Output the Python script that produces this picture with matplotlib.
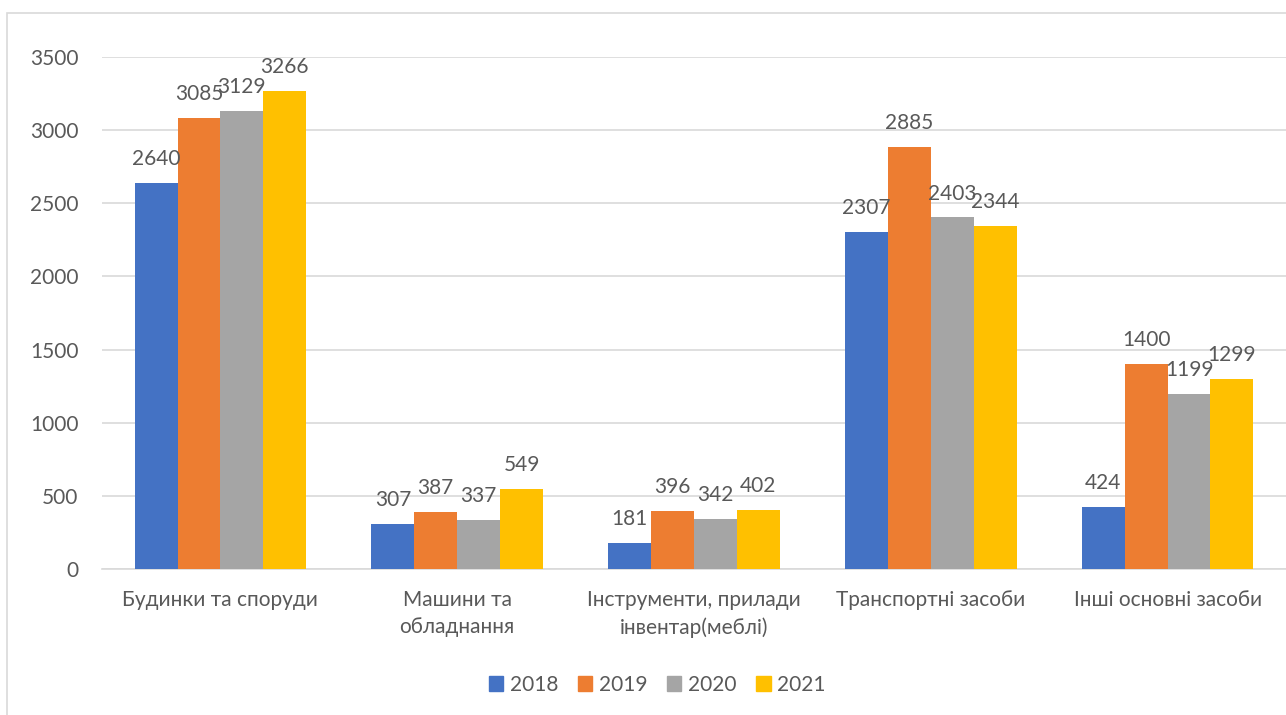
import matplotlib.pyplot as plt
import matplotlib.patches as mpatches
import numpy as np

# дані
categories = ['Будинки та споруди', 'Машини та\nобладнання',
              'Інструменти, прилади\nінвентар(меблі)', 'Транспортні засоби',
              'Інші основні засоби']
years = ['2018', '2019', '2020', '2021']
v2018 = [2640, 307, 181, 2307, 424]
v2019 = [3085, 387, 396, 2885, 1400]
v2020 = [3129, 337, 342, 2403, 1199]
v2021 = [3266, 549, 402, 2344, 1299]
series = [v2018, v2019, v2020, v2021]
colors = ['#4472c4', '#ed7d31', '#a5a5a5', '#ffc000']

plt.rcParams['font.family'] = ['Lato', 'DejaVu Sans']
txt = '#595959'
fs = 15

fig = plt.figure(figsize=(12.86, 7.15), dpi=100)
ax = fig.add_axes([102 / 1286, 1 - 569 / 715, 1 - 102 / 1286, (569 - 57) / 715])

x = np.arange(len(categories))
w = 0.181
for i, vals in enumerate(series):
    pos = x + (i - 1.5) * w
    bars = ax.bar(pos, vals, width=w, color=colors[i], label=years[i], zorder=3)
    for b, v in zip(bars, vals):
        ax.annotate(str(v), (b.get_x() + b.get_width() / 2, v), xytext=(0, 10),
                    textcoords='offset points', ha='center', va='bottom',
                    fontsize=fs, color=txt, zorder=4)

ax.set_xlim(-0.5, len(categories) - 0.5)
ax.set_ylim(0, 3500)
ax.set_yticks(range(0, 3501, 500))
ax.set_xticks(x)
ax.set_xticklabels(categories, fontsize=fs, color=txt, linespacing=1.45,
                   va='top')
ax.tick_params(axis='y', labelsize=fs, labelcolor=txt, length=0, pad=17)
ax.tick_params(axis='x', length=0, pad=15)
ax.grid(axis='y', color='#d9d9d9', linewidth=1.2, zorder=0)
for s in ['top', 'right', 'left']:
    ax.spines[s].set_visible(False)
ax.spines['bottom'].set_color('#d9d9d9')
ax.spines['bottom'].set_linewidth(1.2)

handles = [mpatches.Patch(color=c) for c in colors]
fig.legend(handles, years, loc='center', bbox_to_anchor=(657 / 1286, 1 - 685 / 715),
           ncol=4, frameon=False, fontsize=fs, labelcolor=txt, handlelength=0.7,
           handleheight=0.7, handletextpad=0.3, columnspacing=0.95)

# рамка діаграми
fig.patches.append(mpatches.Rectangle((7 / 1286, -0.1), 1.2, 1 - 13 / 715 + 0.1,
                                      transform=fig.transFigure, fill=False,
                                      edgecolor='#d9d9d9', linewidth=1.2))

fig.savefig('out.png', dpi=100)
